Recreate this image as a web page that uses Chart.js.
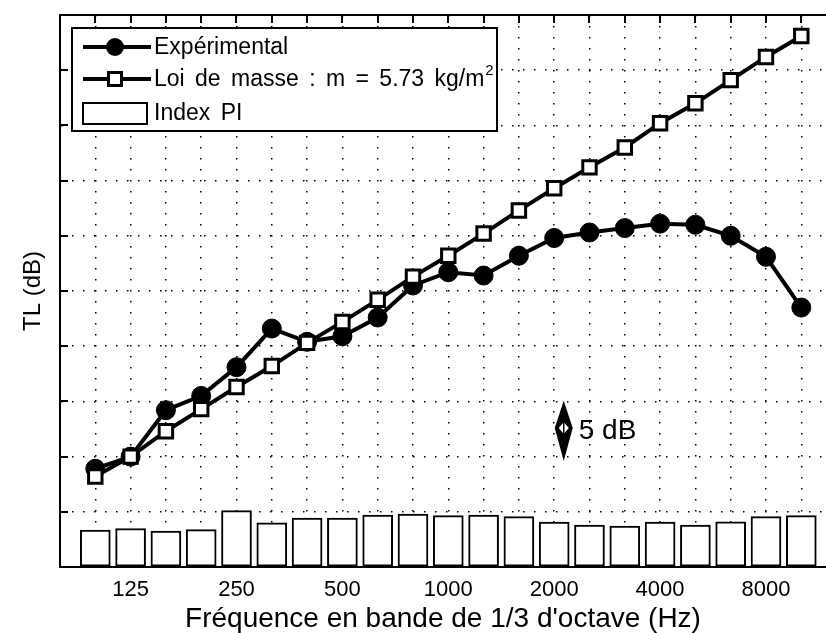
<!DOCTYPE html>
<html><head><meta charset="utf-8">
<script src="https://cdn.jsdelivr.net/npm/chart.js@4.4.1/dist/chart.umd.min.js"></script>
<style>html,body{margin:0;padding:0;background:#fff;overflow:hidden}</style>
</head><body>
<canvas id="c" width="826" height="633"></canvas>
<script>
// ---- data ----
const bands = [100,125,160,200,250,315,400,500,630,800,1000,1250,1600,2000,2500,3150,4000,5000,6300,8000,10000];
const xTickLabels = ['125','250','500','1000','2000','4000','8000'];
const experimental = [8.9,10.0,14.2,15.5,18.1,21.6,20.4,20.9,22.6,25.5,26.7,26.4,28.2,29.8,30.3,30.7,31.1,31.0,30.0,28.1,23.5];
const massLaw = [8.2,10.0,12.3,14.3,16.3,18.2,20.3,22.2,24.2,26.3,28.2,30.2,32.3,34.3,36.2,38.0,40.2,42.0,44.1,46.2,48.1];
const indexPI = [3.35,3.47,3.26,3.38,5.1,4.0,4.44,4.44,4.71,4.8,4.65,4.71,4.56,4.08,3.8,3.71,4.08,3.8,4.1,4.56,4.65];
const seriesNames = ['Expérimental', 'Loi de masse : m = 5.73 kg/m', 'Index PI'];
const yLabel = 'TL (dB)';
const xLabel = "Fréquence en bande de 1/3 d'octave (Hz)";
const scaleBarText = '5 dB';

const FONT = "'Liberation Sans', Arial, Helvetica, sans-serif";
const pts = arr => arr.map((v, i) => ({x: i, y: v}));

const framePlugin = {
  id: 'frame',
  beforeDatasetsDraw(chart) {
    const {ctx, chartArea: a, scales: {x, y}} = chart;
    ctx.save();
    ctx.strokeStyle = '#000';
    ctx.lineWidth = 2;
    ctx.beginPath();
    for (let i = 0; i < bands.length; i++) {
      const px = Math.round(x.getPixelForValue(i));
      ctx.moveTo(px, a.top); ctx.lineTo(px, a.top + 8);
      ctx.moveTo(px, a.bottom); ctx.lineTo(px, a.bottom - 7);
    }
    for (let v = 5; v < 50; v += 5) {
      const py = Math.round(y.getPixelForValue(v));
      ctx.moveTo(a.left, py); ctx.lineTo(a.left + 8, py);
    }
    ctx.stroke();
    ctx.restore();
  },
  afterDraw(chart) {
    const {ctx, chartArea: a} = chart;
    ctx.save();
    ctx.strokeStyle = '#000';
    ctx.lineWidth = 2;
    ctx.beginPath();
    ctx.moveTo(a.left - 1, a.top); ctx.lineTo(a.right, a.top);
    ctx.stroke();
    ctx.restore();
  }
};

const scaleBarPlugin = {
  id: 'scaleBar',
  afterDatasetsDraw(chart) {
    const {ctx, scales: {x, y}} = chart;
    const cx = x.getPixelForValue(13.27);
    const yt = y.getPixelForValue(15.05), yb = y.getPixelForValue(9.6), ym = y.getPixelForValue(12.6);
    ctx.save();
    ctx.fillStyle = '#000';
    ctx.beginPath();
    ctx.moveTo(cx, yt); ctx.lineTo(cx + 9, ym); ctx.lineTo(cx, yb); ctx.lineTo(cx - 9, ym); ctx.closePath();
    ctx.fill();
    ctx.fillStyle = '#fff';
    ctx.beginPath();
    ctx.moveTo(cx, ym - 6); ctx.lineTo(cx + 5, ym); ctx.lineTo(cx, ym + 6); ctx.lineTo(cx - 5, ym); ctx.closePath();
    ctx.fill();
    ctx.strokeStyle = '#000'; ctx.lineWidth = 1.5;
    ctx.beginPath(); ctx.moveTo(cx, ym - 6); ctx.lineTo(cx, ym + 6); ctx.stroke();
    ctx.fillStyle = '#000';
    ctx.font = '28px ' + FONT;
    ctx.textBaseline = 'middle';
    ctx.textAlign = 'left';
    ctx.fillText(scaleBarText, cx + 15, ym + 3);
    ctx.restore();
  }
};

const legendPlugin = {
  id: 'customLegend',
  afterDraw(chart) {
    const {ctx} = chart;
    const L = 72, T = 28, W = 425, H = 103;
    ctx.save();
    ctx.fillStyle = '#fff';
    ctx.fillRect(L, T, W, H);
    ctx.strokeStyle = '#000'; ctx.lineWidth = 2;
    ctx.strokeRect(L, T, W, H);
    const rows = [47, 79, 113];
    ctx.lineWidth = 4;
    ctx.beginPath(); ctx.moveTo(83, rows[0]); ctx.lineTo(151, rows[0]); ctx.stroke();
    ctx.fillStyle = '#000';
    ctx.beginPath(); ctx.arc(115, rows[0], 9, 0, Math.PI * 2); ctx.fill();
    ctx.beginPath(); ctx.moveTo(83, rows[1]); ctx.lineTo(151, rows[1]); ctx.stroke();
    ctx.fillStyle = '#fff'; ctx.lineWidth = 3;
    ctx.fillRect(108.5, rows[1] - 6.5, 13, 13);
    ctx.strokeRect(108.5, rows[1] - 6.5, 13, 13);
    ctx.lineWidth = 2;
    ctx.strokeRect(83, 103, 64, 21);
    ctx.fillStyle = '#000';
    ctx.font = '23px ' + FONT;
    if ('wordSpacing' in ctx) ctx.wordSpacing = '4px';
    ctx.textBaseline = 'middle';
    ctx.textAlign = 'left';
    ctx.fillText(seriesNames[0], 154, rows[0] + 1);
    ctx.fillText(seriesNames[1], 154, rows[1] + 1);
    const w = ctx.measureText(seriesNames[1]).width;
    ctx.font = '15px ' + FONT;
    ctx.fillText('2', 154 + w + 1, rows[1] - 8);
    ctx.font = '23px ' + FONT;
    ctx.fillText(seriesNames[2], 154, rows[2] + 1);
    ctx.restore();
  }
};

const gridStyle = {color: '#000', lineWidth: 1.5, drawTicks: false, offset: false};
const borderStyle = {display: true, color: '#000', width: 2, dash: [1.5, 9.5]};

new Chart(document.getElementById('c'), {
  type: 'line',
  data: {
    datasets: [
      {type: 'line', label: seriesNames[0], data: pts(experimental), borderColor: '#000', borderWidth: 4,
       pointStyle: 'circle', pointRadius: 9.5, pointBackgroundColor: '#000', pointBorderColor: '#000',
       pointBorderWidth: 1, tension: 0, order: 2},
      {type: 'line', label: seriesNames[1], data: pts(massLaw), borderColor: '#000', borderWidth: 4,
       pointStyle: 'rect', pointRadius: 9.5, pointBackgroundColor: '#fff', pointBorderColor: '#000',
       pointBorderWidth: 3, tension: 0, order: 1},
      {type: 'bar', label: seriesNames[2], data: pts(indexPI), backgroundColor: '#fff', borderColor: '#000',
       borderWidth: 2, borderSkipped: false, barThickness: 30, order: 3}
    ]
  },
  options: {
    responsive: false, animation: false, devicePixelRatio: 1,
    layout: {autoPadding: false, padding: {left: 0, right: 0, top: 15, bottom: 0}},
    plugins: {legend: {display: false}, tooltip: {enabled: false}},
    scales: {
      x: {type: 'linear', min: -1, max: 20.7, offset: false,
          afterFit: s => { s.paddingLeft = 0; s.paddingRight = 0; s.height = 66; },
          ticks: {stepSize: 1, includeBounds: false, autoSkip: false, maxRotation: 0, minRotation: 0, padding: 12,
                  color: '#000', font: {family: FONT, size: 22, lineHeight: 1},
                  callback: v => { const f = bands[v]; return (f !== undefined && xTickLabels.includes(String(f))) ? String(f) : ''; }},
          grid: gridStyle, border: borderStyle,
          title: {display: true, text: xLabel, color: '#000', font: {family: FONT, size: 28, lineHeight: 1}, padding: {top: 0, bottom: 0}}},
      y: {type: 'linear', min: 0, max: 50,
          ticks: {stepSize: 5, display: false},
          grid: gridStyle, border: borderStyle,
          title: {display: true, text: yLabel, color: '#000', font: {family: FONT, size: 24}, padding: {top: 18.6, bottom: 12.6}}}
    }
  },
  plugins: [framePlugin, scaleBarPlugin, legendPlugin]
});
</script>
</body></html>
